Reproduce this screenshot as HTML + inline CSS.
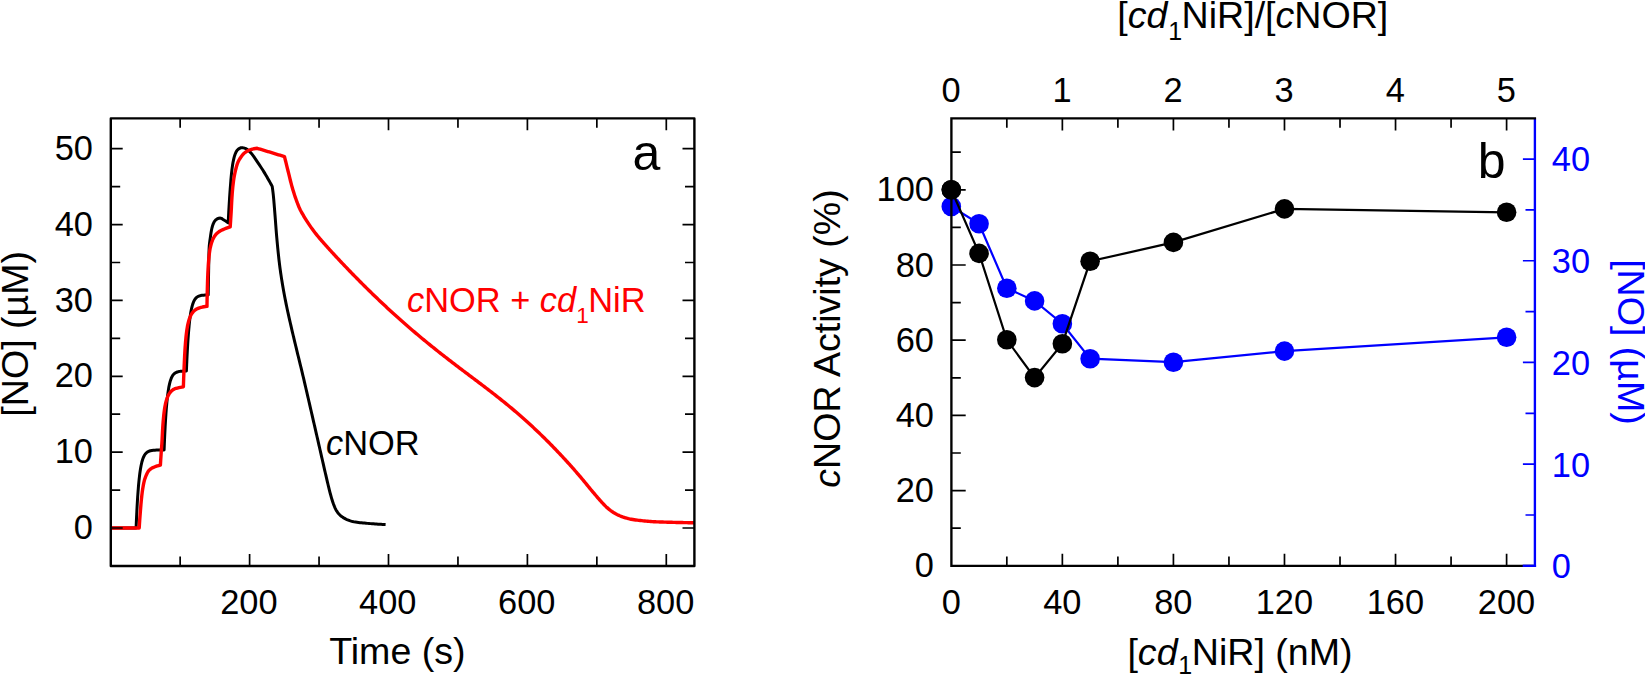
<!DOCTYPE html>
<html lang="en">
<head>
<meta charset="utf-8">
<title>cNOR activity figure</title>
<style>html,body{margin:0;padding:0;background:#fff}svg{display:block}</style>
</head>
<body>
<svg width="1645" height="675" viewBox="0 0 1645 675" font-family='"Liberation Sans", sans-serif' fill="#000">
<rect width="1645" height="675" fill="#fff"/>
<g fill="none" stroke-linejoin="round" stroke-linecap="butt">
<path d="M110.8 528 L112.49 528 L114.17 528 L115.86 528 L117.55 528 L119.23 528 L120.92 528 L122.61 528 L124.29 528 L125.98 528 L127.67 528 L129.35 528 L131.04 528 L132.73 528 L134.41 528 L136.1 528 L136.16 526.47 L136.22 524.94 L136.29 523.41 L136.35 521.88 L136.42 520.35 L136.49 518.82 L136.56 517.29 L136.63 515.76 L136.7 514.24 L136.78 512.71 L136.85 511.18 L136.93 509.65 L137.01 508.12 L137.09 506.59 L137.18 505.06 L137.27 503.53 L137.36 502.01 L137.45 500.48 L137.54 498.95 L137.64 497.42 L137.74 495.89 L137.85 494.37 L137.96 492.84 L138.07 491.31 L138.19 489.79 L138.31 488.26 L138.43 486.74 L138.57 485.21 L138.7 483.68 L138.85 482.16 L139 480.64 L139.15 479.11 L139.32 477.59 L139.5 476.07 L139.68 474.55 L139.88 473.03 L140.09 471.51 L140.32 470 L140.56 468.48 L140.83 466.98 L141.11 465.48 L141.43 463.98 L141.78 462.48 L142.18 460.99 L142.62 459.52 L143.13 458.09 L143.72 456.68 L144.45 455.29 L145.3 454.01 L146.3 452.91 L147.55 451.95 L148.89 451.27 L150.36 450.79 L151.87 450.48 L153.39 450.3 L154.92 450.18 L156.45 450.11 L157.98 450.07 L159.51 450.04 L161.04 450.03 L162.57 450.01 L164.1 450.01 L164.16 448.47 L164.22 446.94 L164.28 445.4 L164.34 443.87 L164.41 442.34 L164.47 440.81 L164.54 439.28 L164.61 437.75 L164.68 436.22 L164.75 434.68 L164.82 433.15 L164.89 431.62 L164.97 430.09 L165.05 428.56 L165.13 427.03 L165.21 425.5 L165.3 423.97 L165.39 422.44 L165.48 420.91 L165.57 419.38 L165.67 417.85 L165.77 416.32 L165.87 414.79 L165.98 413.26 L166.09 411.73 L166.2 410.2 L166.32 408.67 L166.45 407.14 L166.57 405.61 L166.71 404.09 L166.85 402.56 L167 401.04 L167.16 399.51 L167.32 397.99 L167.5 396.46 L167.68 394.94 L167.88 393.42 L168.09 391.9 L168.31 390.39 L168.56 388.87 L168.82 387.36 L169.11 385.85 L169.44 384.35 L169.79 382.86 L170.19 381.38 L170.65 379.9 L171.18 378.45 L171.8 377.07 L172.56 375.72 L173.48 374.46 L174.55 373.43 L175.86 372.56 L177.26 371.99 L178.76 371.59 L180.27 371.36 L181.8 371.22 L183.33 371.13 L184.87 371.07 L186.4 371.05 L186.46 369.47 L186.52 367.94 L186.59 366.42 L186.65 364.89 L186.72 363.36 L186.79 361.83 L186.85 360.31 L186.93 358.78 L187 357.25 L187.07 355.72 L187.15 354.2 L187.23 352.67 L187.31 351.14 L187.39 349.62 L187.48 348.09 L187.56 346.56 L187.65 345.04 L187.74 343.51 L187.84 341.98 L187.94 340.46 L188.04 338.93 L188.15 337.41 L188.26 335.88 L188.37 334.36 L188.49 332.83 L188.61 331.31 L188.74 329.78 L188.87 328.26 L189.01 326.74 L189.16 325.22 L189.32 323.69 L189.48 322.17 L189.65 320.65 L189.83 319.13 L190.03 317.62 L190.23 316.1 L190.46 314.59 L190.69 313.08 L190.95 311.57 L191.24 310.06 L191.55 308.56 L191.9 307.08 L192.28 305.6 L192.73 304.12 L193.25 302.67 L193.84 301.28 L194.56 299.92 L195.44 298.64 L196.47 297.56 L197.73 296.64 L199.11 296.01 L200.59 295.57 L202.09 295.31 L203.62 295.15 L205.14 295.05 L206.67 294.98 L208.2 294.95 L208.22 293.47 L208.25 291.94 L208.27 290.4 L208.3 288.87 L208.32 287.34 L208.35 285.81 L208.38 284.27 L208.4 282.74 L208.43 281.21 L208.46 279.68 L208.48 278.14 L208.51 276.61 L208.54 275.08 L208.57 273.55 L208.6 272.01 L208.63 270.48 L208.65 268.95 L208.68 267.41 L208.7 265.88 L208.73 264.35 L208.75 262.81 L208.78 261.28 L208.81 259.75 L208.84 258.21 L208.87 256.68 L208.91 255.15 L208.95 253.62 L208.99 252.09 L209.04 250.56 L209.1 249.03 L209.17 247.5 L209.28 245.97 L209.42 244.45 L209.59 242.92 L209.78 241.4 L209.98 239.88 L210.2 238.36 L210.42 236.84 L210.64 235.32 L210.87 233.8 L211.11 232.28 L211.37 230.75 L211.67 229.24 L212.01 227.75 L212.39 226.28 L212.85 224.83 L213.43 223.35 L214.15 221.95 L214.97 220.73 L216.04 219.64 L217.37 218.74 L218.79 218.31 L220.34 218.1 L221.73 218.48 L223.05 219.41 L224.36 220.28 L225.65 221.09 L226.94 221.93 L228.2 222.8 L228.27 221.28 L228.34 219.76 L228.42 218.24 L228.5 216.72 L228.58 215.19 L228.66 213.67 L228.74 212.15 L228.82 210.63 L228.91 209.11 L229 207.59 L229.08 206.07 L229.17 204.55 L229.26 203.03 L229.36 201.51 L229.45 199.99 L229.55 198.47 L229.64 196.95 L229.74 195.43 L229.85 193.91 L229.95 192.39 L230.06 190.87 L230.17 189.35 L230.28 187.84 L230.4 186.32 L230.52 184.8 L230.64 183.28 L230.76 181.76 L230.88 180.24 L231.01 178.72 L231.15 177.21 L231.29 175.69 L231.44 174.17 L231.6 172.66 L231.77 171.15 L231.94 169.64 L232.14 168.13 L232.35 166.61 L232.58 165.1 L232.82 163.6 L233.09 162.1 L233.39 160.61 L233.71 159.12 L234.06 157.63 L234.47 156.15 L234.94 154.69 L235.48 153.28 L236.13 151.89 L236.96 150.54 L237.94 149.48 L239.18 148.55 L240.63 147.82 L242.08 147.61 L243.59 147.86 L245.09 148.33 L246.44 148.91 L247.7 149.77 L248.88 150.81 L249.98 151.87 L251 152.98 L251.98 154.17 L252.91 155.38 L253.82 156.6 L254.68 157.86 L255.52 159.13 L256.35 160.41 L257.19 161.68 L258.04 162.94 L258.9 164.2 L259.75 165.46 L260.61 166.73 L261.45 168 L262.28 169.27 L263.1 170.56 L263.9 171.85 L264.69 173.15 L265.47 174.46 L266.24 175.77 L267.01 177.09 L267.77 178.41 L268.52 179.73 L269.27 181.06 L270.01 182.39 L270.75 183.72 L271.48 185.06 L272.2 186.4 L272.41 187.89 L272.62 189.39 L272.81 190.88 L273 192.38 L273.18 193.88 L273.34 195.37 L273.49 196.87 L273.63 198.37 L273.77 199.88 L273.9 201.38 L274.02 202.88 L274.15 204.38 L274.27 205.89 L274.39 207.39 L274.51 208.89 L274.63 210.4 L274.75 211.9 L274.87 213.4 L274.99 214.9 L275.11 216.41 L275.22 217.91 L275.34 219.41 L275.45 220.92 L275.56 222.42 L275.67 223.93 L275.79 225.43 L275.9 226.93 L276.01 228.44 L276.13 229.94 L276.25 231.44 L276.37 232.94 L276.49 234.45 L276.62 235.95 L276.75 237.45 L276.89 238.95 L277.02 240.45 L277.16 241.96 L277.3 243.46 L277.44 244.96 L277.58 246.46 L277.73 247.96 L277.88 249.46 L278.03 250.96 L278.18 252.46 L278.34 253.96 L278.5 255.46 L278.66 256.96 L278.83 258.46 L279 259.96 L279.18 261.45 L279.35 262.95 L279.54 264.45 L279.73 265.94 L279.92 267.44 L280.13 268.93 L280.33 270.42 L280.54 271.92 L280.76 273.41 L280.98 274.9 L281.2 276.39 L281.43 277.88 L281.66 279.37 L281.9 280.86 L282.14 282.35 L282.38 283.84 L282.63 285.32 L282.89 286.81 L283.15 288.3 L283.41 289.78 L283.68 291.26 L283.95 292.75 L284.23 294.23 L284.51 295.71 L284.8 297.19 L285.08 298.67 L285.37 300.15 L285.67 301.63 L285.96 303.11 L286.26 304.59 L286.56 306.06 L286.87 307.54 L287.18 309.01 L287.5 310.49 L287.82 311.96 L288.15 313.43 L288.47 314.9 L288.8 316.38 L289.14 317.85 L289.47 319.32 L289.81 320.79 L290.14 322.26 L290.48 323.73 L290.82 325.2 L291.15 326.67 L291.49 328.14 L291.83 329.61 L292.17 331.07 L292.52 332.54 L292.86 334.01 L293.21 335.48 L293.56 336.94 L293.91 338.41 L294.26 339.88 L294.61 341.34 L294.97 342.81 L295.32 344.27 L295.67 345.74 L296.03 347.2 L296.38 348.67 L296.73 350.14 L297.09 351.6 L297.44 353.07 L297.8 354.53 L298.16 356 L298.52 357.46 L298.88 358.93 L299.24 360.39 L299.6 361.85 L299.96 363.32 L300.32 364.78 L300.67 366.25 L301.03 367.71 L301.39 369.18 L301.74 370.64 L302.1 372.11 L302.45 373.57 L302.79 375.04 L303.14 376.51 L303.49 377.97 L303.84 379.44 L304.18 380.91 L304.52 382.38 L304.87 383.85 L305.21 385.31 L305.55 386.78 L305.89 388.25 L306.23 389.72 L306.57 391.19 L306.91 392.66 L307.25 394.13 L307.59 395.6 L307.93 397.06 L308.27 398.53 L308.61 400 L308.94 401.47 L309.28 402.94 L309.62 404.41 L309.96 405.88 L310.3 407.35 L310.64 408.82 L310.97 410.29 L311.31 411.76 L311.65 413.23 L311.99 414.7 L312.33 416.16 L312.67 417.63 L313 419.1 L313.34 420.57 L313.68 422.04 L314.02 423.51 L314.35 424.98 L314.69 426.45 L315.03 427.92 L315.37 429.39 L315.7 430.86 L316.04 432.33 L316.38 433.8 L316.71 435.27 L317.05 436.74 L317.39 438.21 L317.72 439.68 L318.06 441.15 L318.4 442.62 L318.73 444.09 L319.07 445.56 L319.41 447.03 L319.74 448.5 L320.08 449.97 L320.41 451.44 L320.75 452.91 L321.08 454.38 L321.41 455.85 L321.75 457.32 L322.08 458.79 L322.42 460.26 L322.75 461.73 L323.08 463.2 L323.42 464.67 L323.75 466.14 L324.09 467.61 L324.43 469.08 L324.76 470.55 L325.1 472.02 L325.44 473.48 L325.79 474.95 L326.13 476.42 L326.47 477.89 L326.82 479.36 L327.16 480.82 L327.5 482.29 L327.85 483.76 L328.19 485.23 L328.54 486.7 L328.9 488.16 L329.26 489.63 L329.63 491.09 L330.01 492.54 L330.4 494 L330.79 495.46 L331.19 496.92 L331.61 498.37 L332.05 499.81 L332.51 501.24 L333 502.66 L333.51 504.1 L334.05 505.52 L334.62 506.93 L335.23 508.32 L335.89 509.65 L336.62 510.94 L337.47 512.2 L338.41 513.4 L339.42 514.52 L340.5 515.55 L341.68 516.51 L342.92 517.39 L344.19 518.17 L345.52 518.89 L346.9 519.54 L348.29 520.11 L349.7 520.66 L351.13 521.16 L352.58 521.57 L354.05 521.86 L355.52 522.1 L357.01 522.31 L358.51 522.5 L360.02 522.67 L361.53 522.83 L363.04 522.97 L364.54 523.1 L366.04 523.24 L367.54 523.37 L369.04 523.49 L370.54 523.62 L372.05 523.74 L373.55 523.85 L375.05 523.96 L376.56 524.06 L378.06 524.16 L379.57 524.24 L381.07 524.32 L382.58 524.39 L384.09 524.45 L385.6 524.5" stroke="#000" stroke-width="3"/>
<path d="M110.8 528 L112.47 528 L114.14 528 L115.81 528 L117.48 528 L119.15 528 L120.82 528 L122.49 528 L124.16 528 L125.84 528 L127.51 528 L129.18 528 L130.85 528 L132.52 528 L134.19 528 L135.86 528 L137.53 528 L139.2 528 L139.3 526.44 L139.39 524.89 L139.5 523.34 L139.6 521.78 L139.71 520.23 L139.82 518.67 L139.93 517.12 L140.05 515.57 L140.17 514.01 L140.29 512.46 L140.42 510.91 L140.54 509.35 L140.66 507.8 L140.79 506.25 L140.92 504.69 L141.05 503.14 L141.19 501.59 L141.34 500.04 L141.49 498.49 L141.66 496.94 L141.83 495.39 L142.02 493.85 L142.21 492.3 L142.42 490.75 L142.65 489.2 L142.89 487.66 L143.16 486.12 L143.44 484.58 L143.75 483.06 L144.09 481.56 L144.48 480.05 L144.95 478.56 L145.48 477.08 L146.07 475.64 L146.7 474.21 L147.41 472.76 L148.21 471.38 L149.12 470.19 L150.23 469.21 L151.56 468.35 L153 467.61 L154.41 467 L155.85 466.44 L157.33 465.94 L158.84 465.52 L160.4 465.2 L160.49 463.67 L160.58 462.14 L160.67 460.62 L160.77 459.09 L160.87 457.56 L160.96 456.04 L161.07 454.51 L161.17 452.98 L161.28 451.46 L161.39 449.93 L161.51 448.4 L161.63 446.88 L161.74 445.35 L161.85 443.83 L161.94 442.3 L162.04 440.77 L162.12 439.24 L162.2 437.71 L162.28 436.18 L162.36 434.66 L162.43 433.13 L162.51 431.6 L162.59 430.07 L162.68 428.54 L162.77 427.01 L162.87 425.49 L162.98 423.96 L163.1 422.44 L163.22 420.91 L163.36 419.38 L163.5 417.86 L163.65 416.33 L163.81 414.8 L163.99 413.28 L164.18 411.76 L164.38 410.25 L164.59 408.74 L164.83 407.23 L165.09 405.73 L165.4 404.22 L165.76 402.72 L166.15 401.23 L166.59 399.76 L167.06 398.33 L167.61 396.89 L168.26 395.47 L169 394.1 L169.82 392.84 L170.76 391.67 L171.89 390.55 L173.13 389.62 L174.44 388.97 L175.9 388.48 L177.41 388.07 L178.9 387.7 L180.38 387.36 L181.89 387.06 L183.4 386.8 L183.44 385.27 L183.49 383.75 L183.54 382.22 L183.59 380.7 L183.64 379.17 L183.69 377.65 L183.75 376.12 L183.81 374.6 L183.87 373.07 L183.93 371.55 L183.99 370.03 L184.06 368.5 L184.12 366.98 L184.19 365.45 L184.26 363.93 L184.33 362.4 L184.4 360.88 L184.47 359.36 L184.55 357.83 L184.62 356.31 L184.7 354.78 L184.79 353.26 L184.87 351.73 L184.96 350.21 L185.06 348.69 L185.16 347.17 L185.27 345.65 L185.38 344.12 L185.5 342.6 L185.62 341.08 L185.76 339.56 L185.9 338.03 L186.06 336.51 L186.22 335 L186.4 333.48 L186.59 331.97 L186.79 330.46 L187.02 328.95 L187.27 327.44 L187.55 325.93 L187.86 324.43 L188.21 322.94 L188.59 321.46 L189 320.01 L189.47 318.56 L190.02 317.11 L190.66 315.68 L191.37 314.33 L192.15 313.08 L193.1 311.88 L194.2 310.75 L195.4 309.8 L196.66 309.04 L198.05 308.37 L199.51 307.8 L200.97 307.38 L202.44 307.04 L203.94 306.75 L205.45 306.52 L207 306.4 L207.01 304.85 L207.03 303.31 L207.05 301.76 L207.08 300.21 L207.11 298.67 L207.14 297.12 L207.17 295.58 L207.2 294.03 L207.24 292.48 L207.28 290.94 L207.32 289.39 L207.36 287.85 L207.4 286.3 L207.45 284.76 L207.49 283.21 L207.54 281.67 L207.59 280.12 L207.65 278.57 L207.7 277.03 L207.77 275.48 L207.83 273.94 L207.9 272.39 L207.98 270.85 L208.06 269.3 L208.15 267.76 L208.24 266.22 L208.33 264.68 L208.44 263.13 L208.56 261.59 L208.68 260.04 L208.82 258.5 L208.98 256.95 L209.14 255.42 L209.33 253.88 L209.52 252.35 L209.74 250.83 L209.98 249.3 L210.27 247.78 L210.61 246.26 L211 244.75 L211.43 243.26 L211.9 241.8 L212.43 240.36 L213.06 238.93 L213.78 237.53 L214.58 236.21 L215.46 234.98 L216.5 233.81 L217.65 232.72 L218.85 231.79 L220.14 230.99 L221.52 230.27 L222.95 229.61 L224.38 228.99 L225.81 228.41 L227.25 227.86 L228.72 227.36 L230.2 226.9 L230.3 225.37 L230.41 223.84 L230.51 222.31 L230.61 220.78 L230.71 219.25 L230.81 217.72 L230.9 216.19 L231 214.66 L231.09 213.13 L231.18 211.6 L231.27 210.07 L231.35 208.54 L231.43 207.01 L231.5 205.48 L231.58 203.95 L231.66 202.42 L231.74 200.89 L231.83 199.36 L231.92 197.83 L232.02 196.3 L232.13 194.77 L232.25 193.24 L232.37 191.71 L232.51 190.18 L232.65 188.65 L232.8 187.13 L232.96 185.6 L233.14 184.08 L233.32 182.56 L233.51 181.04 L233.72 179.53 L233.96 178.01 L234.22 176.5 L234.51 174.99 L234.82 173.49 L235.14 171.99 L235.48 170.49 L235.84 169 L236.22 167.51 L236.64 166.02 L237.09 164.55 L237.6 163.12 L238.18 161.72 L238.87 160.35 L239.65 159.01 L240.49 157.72 L241.36 156.46 L242.29 155.2 L243.31 154.03 L244.4 153 L245.6 152.09 L246.92 151.25 L248.31 150.52 L249.71 149.96 L251.14 149.5 L252.6 149.08 L254.09 148.72 L255.63 148.46 L257.2 148.3 L258.72 148.76 L260.23 149.22 L261.75 149.68 L263.27 150.14 L264.78 150.61 L266.3 151.07 L267.82 151.53 L269.33 151.99 L270.85 152.45 L272.37 152.91 L273.88 153.37 L275.4 153.83 L276.92 154.29 L278.43 154.76 L279.95 155.22 L281.47 155.68 L282.98 156.14 L284.5 156.6 L284.85 158.06 L285.21 159.53 L285.57 160.99 L285.93 162.46 L286.29 163.92 L286.65 165.38 L287.01 166.84 L287.37 168.31 L287.74 169.77 L288.1 171.23 L288.47 172.69 L288.84 174.15 L289.2 175.61 L289.56 177.08 L289.92 178.54 L290.27 180.01 L290.63 181.47 L291 182.93 L291.38 184.39 L291.77 185.84 L292.18 187.29 L292.6 188.74 L293.03 190.18 L293.47 191.62 L293.92 193.06 L294.38 194.5 L294.86 195.93 L295.34 197.35 L295.84 198.77 L296.34 200.2 L296.85 201.61 L297.38 203.03 L297.93 204.44 L298.49 205.84 L299.07 207.23 L299.68 208.6 L300.32 209.96 L301.01 211.3 L301.74 212.62 L302.49 213.93 L303.26 215.23 L304.02 216.52 L304.8 217.81 L305.59 219.09 L306.39 220.37 L307.2 221.65 L308.03 222.91 L308.86 224.17 L309.7 225.42 L310.55 226.66 L311.42 227.89 L312.29 229.11 L313.19 230.32 L314.1 231.52 L315.03 232.71 L315.97 233.89 L316.92 235.06 L317.87 236.23 L318.84 237.39 L319.8 238.54 L320.77 239.7 L321.75 240.84 L322.74 241.98 L323.73 243.11 L324.73 244.24 L325.74 245.36 L326.74 246.48 L327.75 247.6 L328.76 248.72 L329.77 249.84 L330.79 250.95 L331.81 252.06 L332.83 253.16 L333.86 254.27 L334.88 255.37 L335.91 256.48 L336.93 257.58 L337.96 258.68 L338.99 259.78 L340.02 260.88 L341.06 261.97 L342.09 263.07 L343.13 264.16 L344.17 265.25 L345.21 266.34 L346.25 267.43 L347.29 268.52 L348.33 269.61 L349.38 270.69 L350.42 271.78 L351.47 272.86 L352.52 273.94 L353.57 275.02 L354.63 276.1 L355.68 277.17 L356.74 278.25 L357.8 279.32 L358.86 280.39 L359.92 281.46 L360.98 282.53 L362.04 283.59 L363.11 284.66 L364.18 285.72 L365.25 286.78 L366.32 287.84 L367.39 288.9 L368.47 289.95 L369.54 291.01 L370.62 292.06 L371.7 293.11 L372.78 294.16 L373.86 295.21 L374.95 296.25 L376.04 297.3 L377.12 298.34 L378.21 299.38 L379.31 300.42 L380.4 301.45 L381.49 302.49 L382.59 303.52 L383.69 304.55 L384.79 305.58 L385.89 306.61 L387 307.63 L388.1 308.65 L389.21 309.68 L390.32 310.69 L391.43 311.71 L392.54 312.73 L393.66 313.74 L394.78 314.75 L395.89 315.76 L397.01 316.77 L398.14 317.77 L399.26 318.78 L400.38 319.78 L401.51 320.78 L402.64 321.78 L403.77 322.77 L404.9 323.77 L406.04 324.76 L407.17 325.75 L408.31 326.74 L409.45 327.72 L410.59 328.7 L411.74 329.69 L412.88 330.67 L414.03 331.64 L415.17 332.62 L416.32 333.59 L417.48 334.56 L418.63 335.53 L419.78 336.5 L420.94 337.46 L422.1 338.43 L423.26 339.39 L424.42 340.35 L425.58 341.31 L426.75 342.26 L427.92 343.21 L429.08 344.17 L430.25 345.12 L431.43 346.06 L432.6 347.01 L433.77 347.95 L434.95 348.89 L436.13 349.83 L437.31 350.77 L438.49 351.71 L439.67 352.64 L440.85 353.57 L442.04 354.5 L443.22 355.43 L444.41 356.36 L445.6 357.28 L446.79 358.21 L447.98 359.13 L449.17 360.05 L450.37 360.97 L451.56 361.89 L452.76 362.81 L453.95 363.72 L455.15 364.63 L456.35 365.55 L457.55 366.46 L458.75 367.37 L459.95 368.28 L461.15 369.19 L462.35 370.1 L463.56 371 L464.76 371.91 L465.96 372.82 L467.17 373.72 L468.37 374.63 L469.57 375.53 L470.78 376.44 L471.98 377.35 L473.19 378.25 L474.39 379.16 L475.59 380.06 L476.8 380.97 L478 381.87 L479.2 382.78 L480.41 383.69 L481.61 384.6 L482.81 385.51 L484.01 386.42 L485.21 387.33 L486.41 388.25 L487.6 389.16 L488.8 390.08 L489.99 391 L491.18 391.92 L492.38 392.84 L493.56 393.76 L494.75 394.69 L495.94 395.62 L497.12 396.55 L498.31 397.48 L499.49 398.42 L500.66 399.36 L501.84 400.3 L503.02 401.24 L504.19 402.19 L505.36 403.14 L506.52 404.09 L507.69 405.05 L508.85 406 L510.01 406.97 L511.17 407.93 L512.33 408.9 L513.48 409.87 L514.63 410.84 L515.77 411.82 L516.92 412.8 L518.06 413.78 L519.2 414.77 L520.34 415.76 L521.47 416.75 L522.6 417.74 L523.73 418.74 L524.85 419.74 L525.98 420.75 L527.09 421.76 L528.21 422.77 L529.32 423.78 L530.43 424.8 L531.54 425.82 L532.65 426.85 L533.75 427.88 L534.85 428.91 L535.95 429.94 L537.04 430.98 L538.13 432.01 L539.22 433.06 L540.3 434.1 L541.38 435.15 L542.46 436.2 L543.54 437.26 L544.61 438.31 L545.68 439.37 L546.75 440.43 L547.82 441.5 L548.88 442.57 L549.94 443.64 L551 444.71 L552.05 445.79 L553.1 446.87 L554.15 447.95 L555.2 449.03 L556.24 450.12 L557.28 451.21 L558.32 452.3 L559.36 453.39 L560.39 454.49 L561.42 455.59 L562.45 456.69 L563.47 457.8 L564.49 458.9 L565.51 460.01 L566.53 461.13 L567.54 462.24 L568.55 463.36 L569.56 464.48 L570.56 465.6 L571.56 466.73 L572.56 467.86 L573.56 468.99 L574.55 470.12 L575.54 471.25 L576.53 472.39 L577.51 473.53 L578.49 474.68 L579.47 475.82 L580.45 476.97 L581.42 478.12 L582.39 479.28 L583.36 480.43 L584.32 481.59 L585.28 482.75 L586.24 483.92 L587.19 485.09 L588.13 486.26 L589.08 487.43 L590.04 488.59 L591 489.75 L591.97 490.9 L592.95 492.05 L593.92 493.2 L594.89 494.36 L595.87 495.52 L596.84 496.67 L597.82 497.82 L598.81 498.97 L599.8 500.11 L600.81 501.23 L601.82 502.35 L602.85 503.45 L603.89 504.53 L604.95 505.59 L606.03 506.63 L607.13 507.64 L608.27 508.64 L609.44 509.6 L610.63 510.52 L611.84 511.41 L613.09 512.26 L614.37 513.08 L615.67 513.83 L617 514.51 L618.36 515.16 L619.75 515.77 L621.15 516.33 L622.57 516.85 L623.99 517.33 L625.43 517.79 L626.88 518.22 L628.34 518.61 L629.81 518.96 L631.28 519.25 L632.75 519.51 L634.24 519.74 L635.73 519.96 L637.23 520.16 L638.73 520.34 L640.23 520.51 L641.73 520.67 L643.23 520.82 L644.73 520.97 L646.23 521.11 L647.73 521.24 L649.23 521.36 L650.73 521.48 L652.24 521.59 L653.74 521.68 L655.24 521.76 L656.75 521.83 L658.25 521.9 L659.76 521.96 L661.26 522.01 L662.77 522.06 L664.27 522.11 L665.78 522.16 L667.29 522.2 L668.79 522.24 L670.3 522.28 L671.81 522.32 L673.31 522.36 L674.82 522.4 L676.33 522.43 L677.83 522.47 L679.34 522.5 L680.84 522.54 L682.35 522.57 L683.86 522.61 L685.36 522.64 L686.87 522.67 L688.37 522.7 L689.88 522.73 L691.39 522.75 L692.89 522.78 L694.4 522.8" stroke="#ff0000" stroke-width="3.4"/>
</g>
<rect x="110.8" y="118.4" width="583.6" height="447.6" fill="none" stroke="#000" stroke-width="2.4" stroke-linejoin="round"/>
<path d="M180.15 118.4v9.4M180.15 566v-9.4M249.6 118.4v11.9M249.6 566v-11.9M319.05 118.4v9.4M319.05 566v-9.4M388.5 118.4v11.9M388.5 566v-11.9M457.95 118.4v9.4M457.95 566v-9.4M527.4 118.4v11.9M527.4 566v-11.9M596.85 118.4v9.4M596.85 566v-9.4M666.3 118.4v11.9M666.3 566v-11.9M110.8 528h11.9M694.4 528h-11.9M110.8 490.07h9.4M694.4 490.07h-9.4M110.8 452.14h11.9M694.4 452.14h-11.9M110.8 414.21h9.4M694.4 414.21h-9.4M110.8 376.28h11.9M694.4 376.28h-11.9M110.8 338.35h9.4M694.4 338.35h-9.4M110.8 300.42h11.9M694.4 300.42h-11.9M110.8 262.49h9.4M694.4 262.49h-9.4M110.8 224.56h11.9M694.4 224.56h-11.9M110.8 186.63h9.4M694.4 186.63h-9.4M110.8 148.7h11.9M694.4 148.7h-11.9" fill="none" stroke="#000" stroke-width="1.7"/>
<g font-size="34.4" fill="#000">
<text x="93.0" y="539.2" text-anchor="end">0</text>
<text x="93.0" y="463.34" text-anchor="end">10</text>
<text x="93.0" y="387.48" text-anchor="end">20</text>
<text x="93.0" y="311.62" text-anchor="end">30</text>
<text x="93.0" y="235.76" text-anchor="end">40</text>
<text x="93.0" y="159.9" text-anchor="end">50</text>
<text x="248.9" y="614.2" text-anchor="middle">200</text>
<text x="387.8" y="614.2" text-anchor="middle">400</text>
<text x="526.7" y="614.2" text-anchor="middle">600</text>
<text x="665.6" y="614.2" text-anchor="middle">800</text>
</g>
<text x="397.4" y="663.9" font-size="37.6" text-anchor="middle">Time (s)</text>
<text transform="translate(27.8 333.8) rotate(-90)" font-size="37.6" text-anchor="middle">[NO] (µM)</text>
<text x="646.3" y="170.3" font-size="50" text-anchor="middle">a</text>
<text x="326" y="455.4" font-size="34.4"><tspan font-style="italic">c</tspan>NOR</text>
<text x="407" y="311.6" font-size="34.4" fill="#ff0000"><tspan font-style="italic">c</tspan>NOR + <tspan font-style="italic">cd</tspan><tspan font-size="22.5" dy="11.1" dx="0.2">1</tspan><tspan dy="-11.1" dx="-0.7">NiR</tspan></text>
<polyline points="951.3,206.5 979.06,223.7 1006.83,288.2 1034.6,300.9 1062.36,323.7 1090.12,358.7 1173.42,362.2 1284.48,351.1 1506.6,337.3" fill="none" stroke="#0000ff" stroke-width="2.2"/>
<g fill="#0000ff"><circle cx="951.3" cy="206.5" r="9.8"/><circle cx="979.06" cy="223.7" r="9.8"/><circle cx="1006.83" cy="288.2" r="9.8"/><circle cx="1034.6" cy="300.9" r="9.8"/><circle cx="1062.36" cy="323.7" r="9.8"/><circle cx="1090.12" cy="358.7" r="9.8"/><circle cx="1173.42" cy="362.2" r="9.8"/><circle cx="1284.48" cy="351.1" r="9.8"/><circle cx="1506.6" cy="337.3" r="9.8"/></g>
<polyline points="951.3,189.8 979.06,253.4 1006.83,339.8 1034.6,377.6 1062.36,343.7 1090.12,261.3 1173.42,242.4 1284.48,208.9 1506.6,212.3" fill="none" stroke="#000" stroke-width="2.2"/>
<g fill="#000"><circle cx="951.3" cy="189.8" r="9.8"/><circle cx="979.06" cy="253.4" r="9.8"/><circle cx="1006.83" cy="339.8" r="9.8"/><circle cx="1034.6" cy="377.6" r="9.8"/><circle cx="1062.36" cy="343.7" r="9.8"/><circle cx="1090.12" cy="261.3" r="9.8"/><circle cx="1173.42" cy="242.4" r="9.8"/><circle cx="1284.48" cy="208.9" r="9.8"/><circle cx="1506.6" cy="212.3" r="9.8"/></g>
<path d="M1006.83 565.8v-9.4M1006.83 118.4v9.4M1062.36 565.8v-12M1062.36 118.4v12M1117.89 565.8v-9.4M1117.89 118.4v9.4M1173.42 565.8v-12M1173.42 118.4v12M1228.95 565.8v-9.4M1228.95 118.4v9.4M1284.48 565.8v-12M1284.48 118.4v12M1340.01 565.8v-9.4M1340.01 118.4v9.4M1395.54 565.8v-12M1395.54 118.4v12M1451.07 565.8v-9.4M1451.07 118.4v9.4M1506.6 565.8v-12M1506.6 118.4v12M951.4 528.2h9.4M951.4 490.6h14.3M951.4 453h9.4M951.4 415.4h14.3M951.4 377.8h9.4M951.4 340.2h14.3M951.4 302.6h9.4M951.4 265h14.3M951.4 227.4h9.4M951.4 189.8h14.3M951.4 152.2h9.4" fill="none" stroke="#000" stroke-width="1.7"/>
<path d="M1534.9 515h-9.4M1534.9 464.15h-12M1534.9 413.3h-9.4M1534.9 362.45h-12M1534.9 311.6h-9.4M1534.9 260.75h-12M1534.9 209.9h-9.4M1534.9 159.05h-12" fill="none" stroke="#0000ff" stroke-width="1.7"/>
<path d="M1534.9 118.4V566.97" fill="none" stroke="#0000ff" stroke-width="2.35"/>
<path d="M1536.08 118.4H951.4V565.8H1533.73" fill="none" stroke="#000" stroke-width="2.35" stroke-linejoin="miter"/>
<path d="M1522.7 565.8H1536.08" fill="none" stroke="#0000ff" stroke-width="2.35"/>
<circle cx="951.3" cy="189.8" r="9.8" fill="#000"/>
<g font-size="34.4">
<text x="934" y="577.3" text-anchor="end">0</text>
<text x="934" y="502.1" text-anchor="end">20</text>
<text x="934" y="426.9" text-anchor="end">40</text>
<text x="934" y="351.7" text-anchor="end">60</text>
<text x="934" y="276.5" text-anchor="end">80</text>
<text x="934" y="201.3" text-anchor="end">100</text>
<text x="951.2" y="614" text-anchor="middle">0</text>
<text x="1062.26" y="614" text-anchor="middle">40</text>
<text x="1173.32" y="614" text-anchor="middle">80</text>
<text x="1284.38" y="614" text-anchor="middle">120</text>
<text x="1395.44" y="614" text-anchor="middle">160</text>
<text x="1506.5" y="614" text-anchor="middle">200</text>
<text x="951" y="101.6" text-anchor="middle">0</text>
<text x="1062.06" y="101.6" text-anchor="middle">1</text>
<text x="1173.12" y="101.6" text-anchor="middle">2</text>
<text x="1284.18" y="101.6" text-anchor="middle">3</text>
<text x="1395.24" y="101.6" text-anchor="middle">4</text>
<text x="1506.3" y="101.6" text-anchor="middle">5</text>
<g fill="#0000ff">
<text x="1551.8" y="578.25">0</text>
<text x="1551.8" y="476.55">10</text>
<text x="1551.8" y="374.85">20</text>
<text x="1551.8" y="273.15">30</text>
<text x="1551.8" y="171.45">40</text>
</g></g>
<g font-size="37.6">
<text x="1127.4" y="664.8">[<tspan font-style="italic">cd</tspan><tspan font-size="25" dy="9.6" dx="0.8">1</tspan><tspan dy="-9.6" dx="-0.5">NiR</tspan>] (nM)</text>
<text x="1117.2" y="27.5">[<tspan font-style="italic">cd</tspan><tspan font-size="25" dy="12.2" dx="0.8">1</tspan><tspan dy="-12.2" dx="-0.5">NiR</tspan>]/[<tspan font-style="italic">c</tspan>NOR]</text>
<text transform="translate(840.2 338.5) rotate(-90)" text-anchor="middle"><tspan font-style="italic">c</tspan>NOR Activity (%)</text>
<text transform="translate(1618.4 342) rotate(90)" text-anchor="middle" fill="#0000ff">[NO] (µM)</text>
</g>
<text x="1491.6" y="177.8" font-size="50" text-anchor="middle">b</text>
</svg>
</body>
</html>
